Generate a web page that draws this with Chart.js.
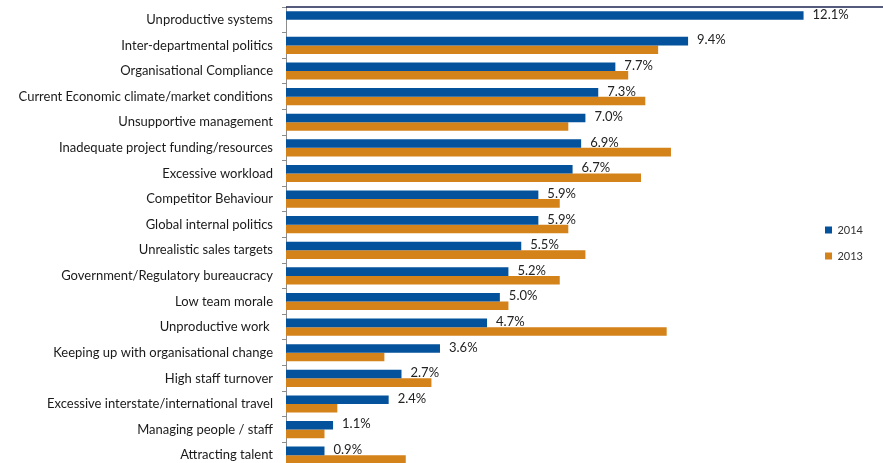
<!DOCTYPE html>
<html><head><meta charset="utf-8">
<script src="https://cdn.jsdelivr.net/npm/chart.js@4.4.0/dist/chart.umd.min.js"></script>
<style>html,body{margin:0;padding:0;overflow:hidden;background:#fff}#wrap{width:883px;height:468px;position:relative}</style>
</head><body><div id="wrap"><canvas id="c"></canvas></div>
<script>
const categories = [
  'Unproductive systems',
  'Inter-departmental politics',
  'Organisational Compliance',
  'Current Economic climate/market conditions',
  'Unsupportive management',
  'Inadequate project funding/resources',
  'Excessive workload',
  'Competitor Behaviour',
  'Global internal politics',
  'Unrealistic sales targets',
  'Government/Regulatory bureaucracy',
  'Low team morale',
  'Unproductive work ',
  'Keeping up with organisational change',
  'High staff turnover',
  'Excessive interstate/international travel',
  'Managing people / staff',
  'Attracting talent'
];
const values2014 = [12.1, 9.4, 7.7, 7.3, 7.0, 6.9, 6.7, 5.9, 5.9, 5.5, 5.2, 5.0, 4.7, 3.6, 2.7, 2.4, 1.1, 0.9];
const values2013 = [null, 8.7, 8.0, 8.4, 6.6, 9.0, 8.3, 6.4, 6.6, 7.0, 6.4, 5.2, 8.9, 2.3, 3.4, 1.2, 0.9, 2.8];
const seriesNames = ['2014', '2013'];
const seriesColors = ['#04529B', '#D4821A'];
const xMax = 12.25;

const valueLabels = {
  id: 'valueLabels',
  afterDatasetsDraw(chart) {
    const ctx = chart.ctx;
    const meta = chart.getDatasetMeta(0);
    ctx.save();
    ctx.font = '13px Lato';
    ctx.fillStyle = '#222';
    ctx.textBaseline = 'middle';
    ctx.textAlign = 'left';
    meta.data.forEach((bar, i) => {
      const v = values2014[i];
      if (v == null) return;
      ctx.fillText(v.toFixed(1) + '%', bar.x + 9, bar.y - 1);
    });
    ctx.restore();
  }
};
const topLine = {
  id: 'topLine',
  afterDraw(chart) {
    const ctx = chart.ctx, a = chart.chartArea;
    ctx.save();
    ctx.strokeStyle = '#1B2550';
    ctx.lineWidth = 1.5;
    ctx.beginPath();
    ctx.moveTo(a.left, a.top);
    ctx.lineTo(chart.width, a.top);
    ctx.stroke();
    ctx.restore();
  }
};

new Chart(document.getElementById('c'), {
  type: 'bar',
  data: {
    labels: categories,
    datasets: [
      { label: seriesNames[0], data: values2014, backgroundColor: seriesColors[0], categoryPercentage: 0.67, barPercentage: 1.0 },
      { label: seriesNames[1], data: values2013, backgroundColor: seriesColors[1], categoryPercentage: 0.67, barPercentage: 1.0 }
    ]
  },
  options: {
    indexAxis: 'y',
    responsive: true,
    maintainAspectRatio: false,
    devicePixelRatio: 1,
    animation: false,
    layout: { padding: { left: 0, right: 10, top: 0, bottom: 0 } },
    plugins: {
      legend: {
        position: 'right',
        title: { display: true, text: ' ', padding: 0, font: { family: 'Lato', size: 15, lineHeight: 1.2 } },
        labels: { boxWidth: 7, boxHeight: 7, padding: 15, color: '#333', font: { family: 'Lato', size: 11 } }
      },
      tooltip: { enabled: false }
    },
    scales: {
      x: {
        position: 'top',
        min: 0, max: xMax,
        ticks: { display: false },
        grid: { display: false },
        border: { display: false },
        afterFit(s) { s.height = 7; s.paddingLeft = 0; s.paddingRight = 0; }
      },
      y: {
        ticks: { autoSkip: false, padding: 9, color: '#1a1a1a', font: { family: 'Lato', size: 13 } },
        grid: { display: true, drawOnChartArea: false, drawTicks: true, tickLength: 4, offset: true, color: '#8c8c8c' },
        border: { display: true, color: '#8c8c8c' },
        afterFit(s) { s.width = 286; s.paddingTop = 0; s.paddingBottom = 0; }
      }
    }
  },
  plugins: [valueLabels, topLine]
});
</script>
</body></html>
